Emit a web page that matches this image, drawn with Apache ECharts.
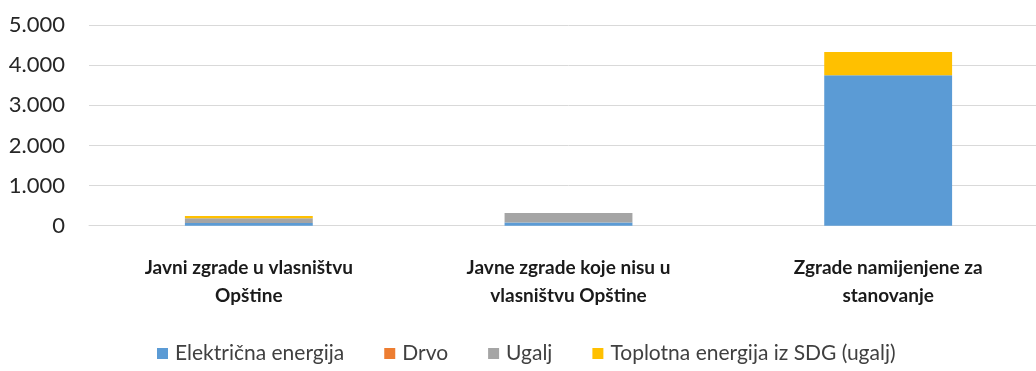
<!DOCTYPE html>
<html>
<head>
<meta charset="utf-8">
<script src="https://cdn.jsdelivr.net/npm/echarts@6/dist/echarts.min.js"></script>
<style>
  html, body { margin: 0; padding: 0; background: #fff; overflow: hidden; }
  /* the plot area runs a little past the right edge of the window */
  #chart { width: 1048px; height: 371px; }
</style>
</head>
<body>
<div id="chart"></div>
<script>
// Building categories (wrapped onto two lines)
const categories = [
  'Javni zgrade u vlasništvu\nOpštine',
  'Javne zgrade koje nisu u\nvlasništvu Opštine',
  'Zgrade namijenjene za\nstanovanje'
];

// Energy use per energy source
const seriesNames = ['Električna energija', 'Drvo', 'Ugalj', 'Toplotna energija iz SDG (ugalj)'];
const elektricna = [65, 80, 3750];
const drvo = [5, 0, 0];
const ugalj = [115, 235, 0];
const toplotna = [55, 0, 575];

const yTicks = [0, 1000, 2000, 3000, 4000, 5000];

const colors = ['#5B9BD5', '#ED7D31', '#A5A5A5', '#FFC000'];
const values = [elektricna, drvo, ugalj, toplotna];

const fontFamily = 'Lato, "Open Sans", "Liberation Sans", sans-serif';

const chart = echarts.init(document.getElementById('chart'));
chart.setOption({
  animation: false,
  textStyle: { fontFamily },
  grid: { left: 89, right: 0, top: 25, height: 200.7 },
  legend: {
    bottom: 2,
    left: 152,
    itemWidth: 11,
    itemHeight: 11,
    itemGap: 40,
    icon: 'rect',
    textStyle: { fontSize: 21, color: '#404040', fontFamily, padding: [0, 0, 0, 2] },
    data: seriesNames
  },
  xAxis: {
    type: 'category',
    data: categories,
    axisLine: { lineStyle: { color: '#D9D9D9', width: 1 } },
    axisTick: { show: false },
    axisLabel: {
      fontSize: 19,
      fontWeight: 'bold',
      color: '#1a1a1a',
      lineHeight: 28,
      margin: 28,
      fontFamily
    }
  },
  yAxis: {
    type: 'value',
    min: yTicks[0],
    max: yTicks[yTicks.length - 1],
    interval: 1000,
    axisLine: { show: false },
    axisTick: { show: false },
    splitLine: { lineStyle: { color: '#D9D9D9', width: 1 } },
    axisLabel: {
      fontSize: 22,
      color: '#262626',
      margin: 24,
      fontFamily,
      formatter: v => String(v).replace(/\B(?=(\d{3})+(?!\d))/g, '.')
    }
  },
  series: seriesNames.map((name, i) => ({
    name,
    type: 'bar',
    stack: 'total',
    barWidth: '40%',
    itemStyle: { color: colors[i] },
    data: values[i]
  }))
});
</script>
</body>
</html>
